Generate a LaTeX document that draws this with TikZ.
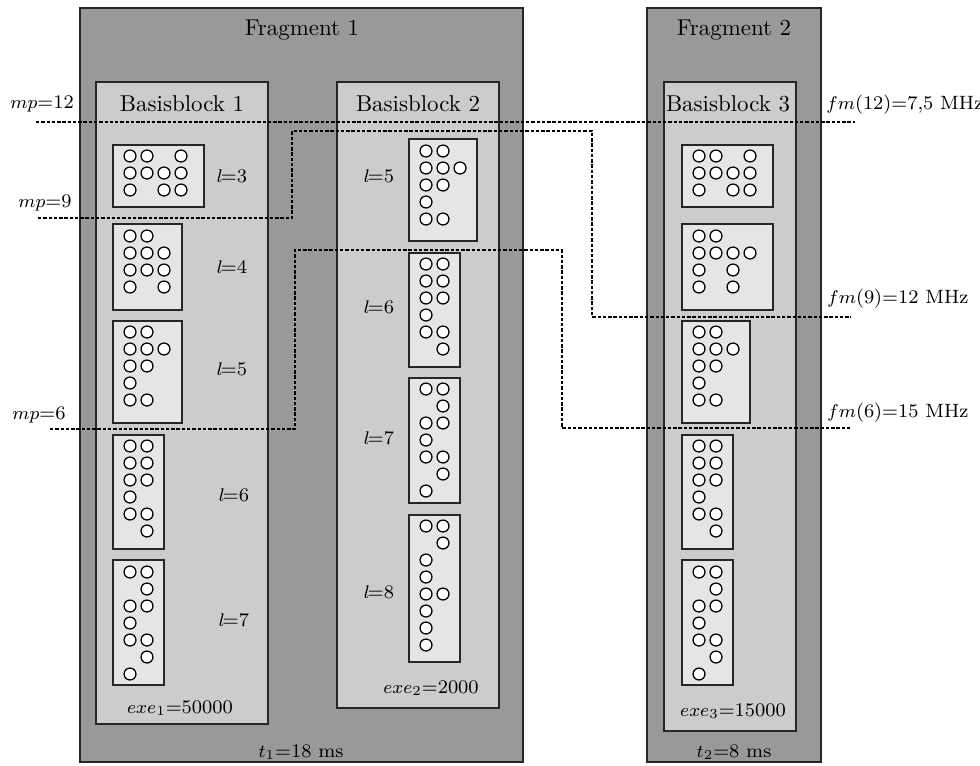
\documentclass[tikz,border=0pt]{standalone}
\usepackage{tikz}

\definecolor{fragfill}{gray}{0.60}
\definecolor{blockfill}{gray}{0.80}
\definecolor{cellfill}{gray}{0.90}

% dots of a pattern: #1,#2 = centre of the first dot, #3 = list of column/row pairs
\newcommand{\celldots}[3]{%
  \foreach \c/\r in {#3}
    \draw[cell] ({#1+(\c-1)*17},{#2+(\r-1)*17}) circle[radius=2.6pt];%
}
% level label "l=n"
\newcommand{\lev}[1]{$l$\kern-0.9pt=#1}

\tikzset{
  frag/.style={draw=black!85, line width=0.6pt, fill=fragfill},
  bblock/.style={draw=black!85, line width=0.6pt, fill=blockfill},
  cbox/.style={draw=black!85, line width=0.6pt, fill=cellfill},
  cell/.style={draw=black, line width=0.55pt, fill=white},
  level/.style={draw=black, line width=0.55pt, dash pattern=on 1.5pt off 0.8pt},
  lbl/.style={inner sep=0pt, font=\fontsize{8.4}{10}\selectfont},
  title/.style={inner sep=0pt, font=\normalsize},
}

\begin{document}
\begin{tikzpicture}[x=0.4365pt, y=-0.4365pt]
  \useasboundingbox (0,0) rectangle (980,765);

  % fragments
  \draw[frag] (80,8) rectangle (523,762);
  \draw[frag] (647,8) rectangle (821,762);
  \node[title] (frag1) at (302,30) {Fragment 1};
  \node[title] (frag2) at (734,30) {Fragment 2};
  \node[lbl] (t1) at (301,752) {$t_1$=18 ms};
  \node[lbl] (t2) at (734,752) {$t_2$=8 ms};

  % basic blocks
  \draw[bblock] (96,82) rectangle (268,724);
  \draw[bblock] (337,82) rectangle (499,708);
  \draw[bblock] (664,82) rectangle (796,731);
  \node[title] (bb1) at (182,104) {Basisblock 1};
  \node[title] (bb2) at (418,104) {Basisblock 2};
  \node[title] (bb3) at (728,104) {Basisblock 3};
  \node[lbl] (exe1) at (180,708) {$exe_1$=50000};
  \node[lbl] (exe2) at (431,688) {$exe_2$=2000};
  \node[lbl] (exe3) at (733,711) {$exe_3$=15000};

  % Basisblock 1
  \draw[cbox] (113,145) rectangle (204,207);
  \celldots{130}{156}{1/1,2/1,4/1,1/2,2/2,3/2,4/2,1/3,3/3,4/3}
  \draw[cbox] (113,224) rectangle (182,310);
  \celldots{130}{236}{1/1,2/1,1/2,2/2,3/2,1/3,2/3,3/3,1/4,3/4}
  \draw[cbox] (113,321) rectangle (182,423);
  \celldots{130}{332}{1/1,2/1,1/2,2/2,3/2,1/3,2/3,1/4,1/5,2/5}
  \draw[cbox] (113,435) rectangle (164,549);
  \celldots{130}{446}{1/1,2/1,1/2,2/2,1/3,2/3,1/4,1/5,2/5,2/6}
  \draw[cbox] (113,560) rectangle (164,685);
  \celldots{130}{572}{1/1,2/1,2/2,1/3,2/3,1/4,1/5,2/5,2/6,1/7}
  \node[lbl] (a3) at (232,176) {\lev{3}};
  \node[lbl] (a4) at (232,267) {\lev{4}};
  \node[lbl] (a5) at (232,369) {\lev{5}};
  \node[lbl] (a6) at (234,495) {\lev{6}};
  \node[lbl] (a7) at (234,620) {\lev{7}};

  % Basisblock 2
  \draw[cbox] (409,139) rectangle (477,241);
  \celldots{426}{151}{1/1,2/1,1/2,2/2,3/2,1/3,2/3,1/4,1/5,2/5}
  \draw[cbox] (409,253) rectangle (460,367);
  \celldots{426}{264}{1/1,2/1,1/2,2/2,1/3,2/3,1/4,1/5,2/5,2/6}
  \draw[cbox] (409,378) rectangle (460,503);
  \celldots{426}{389}{1/1,2/1,2/2,1/3,2/3,1/4,1/5,2/5,2/6,1/7}
  \draw[cbox] (409,515) rectangle (460,662);
  \celldots{426}{526}{1/1,2/1,2/2,1/3,1/4,1/5,2/5,1/6,1/7,1/8}
  \node[lbl] (b5) at (379,176) {\lev{5}};
  \node[lbl] (b6) at (379,307) {\lev{6}};
  \node[lbl] (b7) at (379,438) {\lev{7}};
  \node[lbl] (b8) at (379,592) {\lev{8}};

  % Basisblock 3
  \draw[cbox] (682,145) rectangle (773,207);
  \celldots{699}{156}{1/1,2/1,4/1,1/2,2/2,3/2,4/2,1/3,3/3,4/3}
  \draw[cbox] (682,224) rectangle (773,310);
  \celldots{699}{236}{1/1,2/1,1/2,2/2,3/2,4/2,1/3,3/3,1/4,3/4}
  \draw[cbox] (682,321) rectangle (750,423);
  \celldots{699}{332}{1/1,2/1,1/2,2/2,3/2,1/3,2/3,1/4,1/5,2/5}
  \draw[cbox] (682,435) rectangle (733,549);
  \celldots{699}{446}{1/1,2/1,1/2,2/2,1/3,2/3,1/4,1/5,2/5,2/6}
  \draw[cbox] (682,560) rectangle (733,685);
  \celldots{699}{572}{1/1,2/1,2/2,1/3,2/3,1/4,1/5,2/5,2/6,1/7}

  % partitioning levels
  \coordinate (p12a) at (36,122);  \coordinate (p12b) at (855,122);
  \coordinate (p9a) at (38,218);   \coordinate (p9k) at (292,131);
  \coordinate (p9m) at (592,317);  \coordinate (p9b) at (851,317);
  \coordinate (p6a) at (50,429);   \coordinate (p6k) at (295,250);
  \coordinate (p6m) at (562,428);  \coordinate (p6b) at (852,428);
  \draw[level] (p12a) -- (p12b);
  \draw[level] (p9a) -| (p9k) -| (p9m) -- (p9b);
  \draw[level] (p6a) -| (p6k) -| (p6m) -- (p6b);

  \node[lbl, anchor=west] (mp12) at (10,104) {$mp$=12};
  \node[lbl, anchor=west] (mp9) at (18,203) {$mp$=9};
  \node[lbl, anchor=west] (mp6) at (12,415) {$mp$=6};
  \node[lbl, anchor=west] (fm12) at (826,105) {$fm$(12)=7,5 MHz};
  \node[lbl, anchor=west] (fm9) at (827,299) {$fm$(9)=12 MHz};
  \node[lbl, anchor=west] (fm6) at (827,413) {$fm$(6)=15 MHz};
\end{tikzpicture}
\end{document}
